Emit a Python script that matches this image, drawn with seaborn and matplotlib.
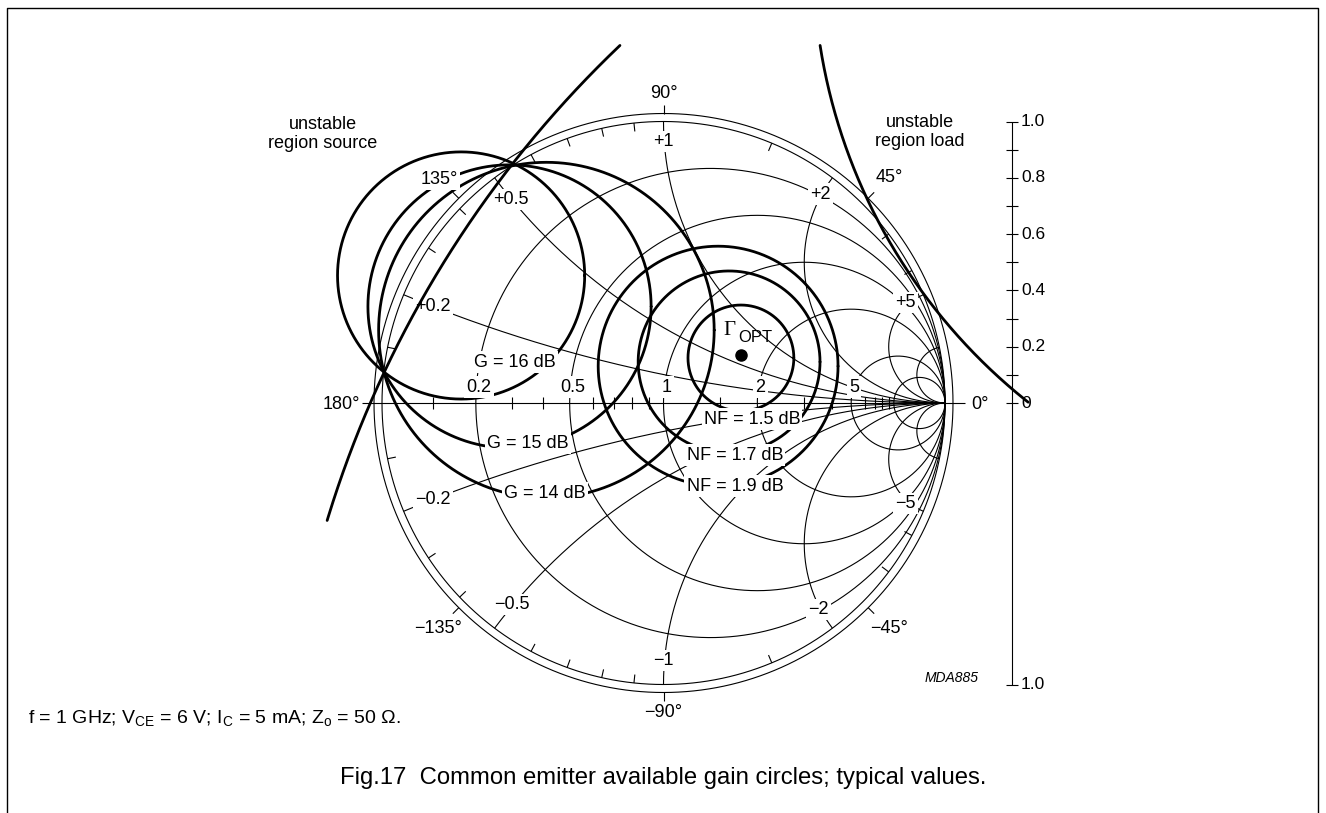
import numpy as np
import pandas as pd
import matplotlib
matplotlib.use("Agg")
import matplotlib.pyplot as plt
import seaborn as sns

# ---------------- data (reflection-coefficient plane, |Γ| = 1 is the chart rim) ----------------
res_circles = [0.2, 0.5, 1, 2, 5, 10]
res_labels = ["0.2", "0.5", "1", "2", "5"]
react_arcs = [0.2, 0.5, 1, 2, 5, 10]
react_pos_labels = ["+0.2", "+0.5", "+1", "+2", "+5"]
react_neg_labels = ["\u22120.2", "\u22120.5", "\u22121", "\u22122", "\u22125"]
res_ticks = [0.1, 0.3, 0.4, 0.6, 0.7, 0.8, 0.9, 1.5, 3, 4, 6, 7, 8, 9]
react_ticks = [0.1, 0.3, 0.4, 0.6, 0.7, 0.8, 0.9, 1.5, 3, 4]
angle_ticks = [45, 90, 135, -45, -90, -135]
angle_label_deg = [90, 135, 45, -135, -45, -90]
angle_label_txt = ["90°", "135°", "45°", "\u2212135°", "\u221245°", "\u221290°"]

gain_db = [16, 15, 14]
gain_cx = [-0.719, -0.547, -0.416]
gain_cy = [0.453, 0.343, 0.259]
gain_r = [0.439, 0.503, 0.596]

nf_db = [1.5, 1.7, 1.9]
nf_cx = [0.275, 0.233, 0.194]
nf_cy = [0.160, 0.146, 0.131]
nf_r = [0.188, 0.323, 0.426]

gamma_opt = [0.275, 0.171]

stab_name = ["source", "load"]
stab_cx = [2.53, 2.547]
stab_cy = [-1.549, 1.582]
stab_r = [3.893, 2.015]
stab_th0 = [133.6, 188.9]
stab_th1 = [163.1, 231.6]

scale_ticks = [0.0, 0.1, 0.2, 0.3, 0.4, 0.5, 0.6, 0.7, 0.8, 0.9, 1.0]
scale_label_val = [1.0, 0.8, 0.6, 0.4, 0.2, 0.0]
scale_label_txt = ["1.0", "0.8", "0.6", "0.4", "0.2", "0"]

# ---------------- layout ----------------
W, H, DPI = 1326, 813, 100
CX, CY, RPX = 663.5, 403.0, 281.5
R_OUT = 1.0284


def P(x, y):
    return ((x - CX) / RPX, (CY - y) / RPX)


sns.set_theme(style="white")
plt.rcParams["font.family"] = ["Liberation Sans", "DejaVu Sans"]
plt.rcParams["text.color"] = "black"
plt.rcParams["mathtext.fontset"] = "custom"
plt.rcParams["mathtext.rm"] = "Liberation Sans"
plt.rcParams["mathtext.it"] = "Liberation Sans:italic"

fig = plt.figure(figsize=(W / DPI, H / DPI), dpi=DPI)
fig.patch.set_facecolor("white")
ax = fig.add_axes([0, 0, 1, 1])

K = "black"
thin = dict(color=K, lw=0.8, zorder=1, solid_capstyle="butt")
t = np.linspace(0, 2 * np.pi, 1441)

# rims
ax.plot(np.cos(t), np.sin(t), **thin)
ax.plot(R_OUT * np.cos(t), R_OUT * np.sin(t), **thin)
# real axis
ax.plot([P(362, 0)[0], P(965, 0)[0]], [0, 0], **thin)
# resistance circles
for r in res_circles:
    c, rad = r / (1 + r), 1 / (1 + r)
    ax.plot(c + rad * np.cos(t), rad * np.sin(t), **thin)
# reactance arcs
rr = np.concatenate([[0.0], np.logspace(-3, 4.5, 900)])
for x in react_arcs:
    for s in (1, -1):
        z = rr + 1j * s * x
        g = (z - 1) / (z + 1)
        ax.plot(g.real, g.imag, **thin)
# reactance ticks on rim
for x in react_ticks:
    for s in (1, -1):
        g = (1j * s * x - 1) / (1j * s * x + 1)
        ax.plot([g.real, g.real * (1 - 0.03)], [g.imag, g.imag * (1 - 0.03)], **thin)
# resistance ticks on axis
for r in res_ticks:
    g = (r - 1) / (r + 1)
    ax.plot([g, g], [-0.022, 0.022], **thin)
# angle ticks
for a in angle_ticks:
    ca, sa = np.cos(np.radians(a)), np.sin(np.radians(a))
    ax.plot([R_OUT * ca, (R_OUT + 0.03) * ca], [R_OUT * sa, (R_OUT + 0.03) * sa], **thin)

# right-hand |Γ| scale
SX = P(1012, 0)[0]
ax.plot([SX, SX], [-1, 1], **thin)
for v in scale_ticks + [-1.0]:
    ax.plot([SX - 0.022, SX + 0.022], [v, v], **thin)
LX = P(1021, 0)[0]
for v, s in zip(scale_label_val, scale_label_txt):
    ax.text(LX, v, s, ha="left", va="center", fontsize=12.5, zorder=4)
ax.text(LX, -1.0, "1.0", ha="left", va="center", fontsize=12.5, zorder=4)

# ---------------- thick curves (seaborn) ----------------
rows = []
for db, cx, cy, r in zip(gain_db, gain_cx, gain_cy, gain_r):
    for th in t:
        rows.append(dict(curve=f"G{db}", x=cx + r * np.cos(th), y=cy + r * np.sin(th)))
for db, cx, cy, r in zip(nf_db, nf_cx, nf_cy, nf_r):
    for th in t:
        rows.append(dict(curve=f"NF{db}", x=cx + r * np.cos(th), y=cy + r * np.sin(th)))
circ = pd.DataFrame(rows)
sns.lineplot(data=circ, x="x", y="y", units="curve", estimator=None, sort=False,
             color=K, lw=2.0, legend=False, ax=ax, zorder=2)

rows = []
for nm, cx, cy, r, a0, a1 in zip(stab_name, stab_cx, stab_cy, stab_r, stab_th0, stab_th1):
    for th in np.radians(np.linspace(a0, a1, 400)):
        rows.append(dict(curve=nm, x=cx + r * np.cos(th), y=cy + r * np.sin(th)))
stab = pd.DataFrame(rows)
sns.lineplot(data=stab, x="x", y="y", units="curve", estimator=None, sort=False,
             color=K, lw=2.0, legend=False, ax=ax, zorder=5)

# Γopt marker
ax.plot([gamma_opt[0]], [gamma_opt[1]], "o", color=K, ms=8, zorder=6)

# ---------------- labels ----------------
box = dict(boxstyle="square,pad=0.12", fc="white", ec="none")
FS = 13


def lab(xy, s, fs=FS, bb=True, **kw):
    kw.setdefault("ha", "center")
    kw.setdefault("va", "center")
    ax.text(xy[0], xy[1], s, fontsize=fs, zorder=4, bbox=box if bb else None, **kw)


for r, s in zip(res_circles, res_labels):
    g = (r - 1) / (r + 1)
    lab((g + 0.011, P(0, 387)[1]), s)

lab_r = [0.888, 0.905, 0.93, 0.928, 0.93]
for x, s, lr in zip(react_arcs, react_pos_labels, lab_r):
    g = (1j * x - 1) / (1j * x + 1)
    a = np.angle(g)
    lab((lr * np.cos(a), lr * np.sin(a)), s)
lab_rn = [0.888, 0.895, 0.915, 0.918, 0.93]
for x, s, lr in zip(react_arcs, react_neg_labels, lab_rn):
    g = (-1j * x - 1) / (-1j * x + 1)
    a = np.angle(g)
    lab((lr * np.cos(a), lr * np.sin(a)), s)

ang_r = [1.101, 1.125, 1.132, 1.132, 1.132, 1.101]
for a, s, ar in zip(angle_label_deg, angle_label_txt, ang_r):
    lab((ar * np.cos(np.radians(a)), ar * np.sin(np.radians(a))), s)
lab(P(360, 404), "180°", ha="right")
lab(P(971, 404), "0°", ha="left", bb=False)

gain_lab_px = [(515, 362), (528, 443), (545, 493)]
for db, p in zip(gain_db, gain_lab_px):
    lab(P(*p), f"G = {db} dB")
nf_lab_px = [(752, 419), (735, 455), (735, 486)]
for db, p in zip(nf_db, nf_lab_px):
    lab(P(*p), f"NF = {db} dB")

ax.text(*P(729, 330), "\u0393", fontsize=15, family="Liberation Serif", ha="center", va="center", zorder=4)
ax.text(*P(755, 337), "OPT", fontsize=12, ha="center", va="center", zorder=4)

ax.text(*P(323, 134), "unstable\nregion source", fontsize=FS, ha="center", va="center",
        linespacing=1.2, zorder=4)
ax.text(*P(920, 132), "unstable\nregion load", fontsize=FS, ha="center", va="center",
        linespacing=1.2, zorder=4)
ax.text(*P(952, 678), "MDA885", fontsize=10, style="italic", ha="center", va="center", zorder=4)

ax.text(*P(28, 718), "f = 1 GHz; V$_{\\rm CE}$ = 6 V; I$_{\\rm C}$ = 5 mA; Z$_{\\rm o}$ = 50 \u03a9.",
        fontsize=14, ha="left", va="center", zorder=4)
ax.text(*P(663, 778), "Fig.17  Common emitter available gain circles; typical values.",
        fontsize=17.2, ha="center", va="center", zorder=4)

# frame
fx0, fy0 = P(7, 8)
fx1, fy1 = P(1318, 813)
ax.plot([fx0, fx0, fx1, fx1], [fy1, fy0, fy0, fy1], color=K, lw=1.0, zorder=1, clip_on=False)

ax.set_xlim(-CX / RPX, (W - CX) / RPX)
ax.set_ylim((CY - H) / RPX, CY / RPX)
ax.set_aspect("auto")
ax.axis("off")

fig.savefig("out.png", dpi=DPI, facecolor="white")
